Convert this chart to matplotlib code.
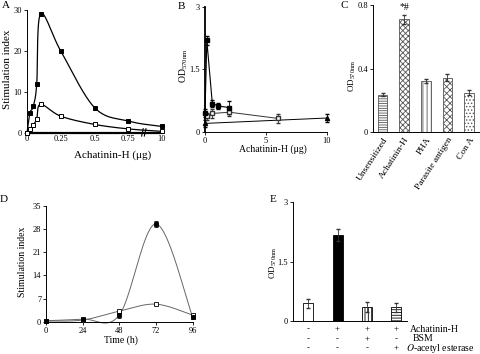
import numpy as np
import matplotlib
matplotlib.use("Agg")
import matplotlib.pyplot as plt
from matplotlib.transforms import blended_transform_factory

plt.rcParams['font.family'] = ['Liberation Serif', 'DejaVu Serif']
plt.rcParams['mathtext.fontset'] = 'stix'
plt.rcParams['hatch.linewidth'] = 0.6
plt.rcParams['hatch.color'] = '#777777'

# ---------------- data ----------------
# Panel A (x positions on a broken axis: 1.0 stands for 10 ug)
A_x = [0, 0.022, 0.047, 0.072, 0.10, 0.25, 0.50, 0.75, 1.0]
A_xticks = [0, 0.25, 0.5, 0.75, 1.0]
A_xticklabels = ['0', '0.25', '0.5', '0.75', '10']
A_filled = [0, 4.9, 6.5, 11.9, 29.0, 20.0, 6.2, 2.9, 1.6]
A_open = [0, 0.9, 2.0, 3.4, 7.0, 4.1, 2.1, 1.0, 0.4]

# Panel B
B_fx = [0, 0.15, 0.6, 1.1, 2.0]
B_fy = [0.45, 2.2, 0.68, 0.62, 0.58]
B_fe = [0.1, 0.1, 0.08, 0.08, 0.15]
B_ox = [0.15, 0.6, 2.0, 6.0]
B_oy = [0.37, 0.44, 0.47, 0.32]
B_oe = [0.08, 0.1, 0.1, 0.1]
B_tx = [0, 10]
B_ty = [0.2, 0.33]
B_te = [0.08, 0.1]

# Panel C
C_cats = ['Unsensitized', 'Achatinin-H', 'PHA', 'Parasite antigen', 'Con A']
C_vals = [0.236, 0.71, 0.321, 0.343, 0.248]
C_errs = [0.01, 0.03, 0.015, 0.02, 0.015]
C_hatches = ['-------', 'xxxxxx', '||||', 'xxxxx', '.....']

# Panel D
D_x = [0, 24, 48, 72, 96]
D_filled = [0.3, 0.8, 2.0, 29.5, 1.5]
D_filled_err = [0.3, 0.4, 0.8, 0.8, 0.8]
D_open = [0.2, 0.5, 3.2, 5.3, 2.0]
D_open_err = [0.2, 0.3, 0.4, 0.4, 0.4]

# Panel E
E_vals = [0.45, 2.17, 0.36, 0.35]
E_errs = [0.12, 0.15, 0.13, 0.11]
E_rows = ['Achatinin-H', 'BSM', r'$\mathit{O}$-acetyl esterase']
E_table = [['-', '+', '+', '+'],
           ['-', '-', '+', '-'],
           ['-', '-', '-', '+']]

W, H = 480, 354
fig = plt.figure(figsize=(4.8, 3.54), dpi=100)


def rect(l, r, t, b):
    return [l / W, 1 - b / H, (r - l) / W, (b - t) / H]


def ftext(x, y, s, **kw):
    fig.text(x / W, 1 - y / H, s, **kw)


def smooth(x, y, sx, sy, n=40):
    P = np.column_stack([np.asarray(x, float) / sx, np.asarray(y, float) / sy])
    out = []
    for i in range(len(P) - 1):
        p0 = P[i - 1] if i > 0 else P[i]
        p1, p2 = P[i], P[i + 1]
        p3 = P[i + 2] if i + 2 < len(P) else P[i + 1]
        b1 = p1 + (p2 - p0) / 6
        b2 = p2 - (p3 - p1) / 6
        t = np.linspace(0, 1, n)[:, None]
        seg = (1 - t) ** 3 * p1 + 3 * (1 - t) ** 2 * t * b1 + 3 * (1 - t) * t ** 2 * b2 + t ** 3 * p2
        out.append(seg)
    arr = np.vstack(out)
    return arr[:, 0] * sx, arr[:, 1] * sy


def style(ax, tick=6):
    for s in ['top', 'right']:
        ax.spines[s].set_visible(False)
    ax.tick_params(labelsize=tick, length=2, width=0.6, pad=1.5)
    for s in ['left', 'bottom']:
        ax.spines[s].set_linewidth(0.7)


# ---------------- Panel A ----------------
axA = fig.add_axes(rect(27, 162, 10, 133))
style(axA)
axA.set_xlim(0, 1.0)
axA.set_ylim(0, 30)
axA.set_yticks([0, 10, 20, 30])
axA.set_xticks(A_xticks)
axA.set_xticklabels(A_xticklabels)
axA.spines['bottom'].set_linewidth(1.6)
axA.tick_params(axis='x', length=0)
sx, sy = 1.0 / 135, 30 / 123
for yv, fc in [(A_filled, 'black'), (A_open, 'white')]:
    cx, cy = smooth(A_x, yv, sx, sy)
    axA.plot(cx, cy, color='black', lw=0.9, clip_on=False, zorder=2)
    axA.plot(A_x, yv, 's', ms=3.2, mfc=fc, mec='black', mew=0.7, clip_on=False, zorder=3)
tr = blended_transform_factory(axA.transData, axA.transAxes)
for xb in [0.855, 0.875]:
    axA.plot([xb - 0.006, xb + 0.006], [-0.025, 0.035], color='black', lw=0.8,
             transform=tr, clip_on=False)
ftext(5.5, 6, 'A', fontsize=8, ha='center', va='center')
ftext(7.5, 69, 'Stimulation index', fontsize=8, rotation=90, ha='center', va='center')
ftext(113, 155, 'Achatinin-H (\u03bcg)', fontsize=8, ha='center', va='center')

# ---------------- Panel B ----------------
axB = fig.add_axes(rect(205, 327, 7.3, 131.7))
style(axB)
axB.set_xlim(0, 10)
axB.set_ylim(0, 3)
axB.set_yticks([0, 1.5, 3])
axB.set_yticklabels(['0', '1.5', '3'])
axB.set_xticks([0, 5, 10])
axB.spines['left'].set_linewidth(1.3)
axB.errorbar(B_tx, B_ty, yerr=B_te, fmt='^-', color='black', ms=3, mfc='black',
             lw=0.7, elinewidth=0.6, capsize=1.5, clip_on=False)
axB.errorbar(B_ox, B_oy, yerr=B_oe, fmt='s-', color='#333333', ms=3.2, mfc='white',
             mec='#333333', lw=0.7, elinewidth=0.6, capsize=1.5, clip_on=False)
axB.errorbar(B_fx, B_fy, yerr=B_fe, fmt='s-', color='black', ms=3.4, mfc='black',
             lw=0.8, elinewidth=0.6, capsize=1.5, clip_on=False)
ftext(181.7, 6.7, 'B', fontsize=8, ha='center', va='center')
ftext(184, 66, r'OD$_{\mathregular{570nm}}$', fontsize=7, rotation=90, ha='center', va='center')
ftext(272.7, 149.3, 'Achatinin-H (\u03bcg)', fontsize=7, ha='center', va='center')

# ---------------- Panel C ----------------
axC = fig.add_axes(rect(372.7, 479, 5, 132))
style(axC)
xc = np.arange(len(C_cats))
for i, (v, h) in enumerate(zip(C_vals, C_hatches)):
    axC.bar(xc[i], v, width=0.44, color='white', edgecolor='#555555', linewidth=0.6, hatch=h)
axC.errorbar(xc, C_vals, yerr=C_errs, fmt='none', ecolor='#333333', elinewidth=0.6, capsize=1.2)
axC.set_xlim(-0.46, 4.46)
axC.set_ylim(0, 0.8)
axC.set_yticks([0, 0.4, 0.8])
axC.set_yticklabels(['0', '0.4', '0.8'])
axC.set_xticks(xc)
axC.set_xticklabels(C_cats, rotation=57, ha='right', va='top', rotation_mode='anchor',
                    fontsize=6.8)
axC.tick_params(axis='x', length=0, pad=3)
axC.text(1, 0.755, '*#', ha='center', va='bottom', fontsize=7)
ftext(344, 6, 'C', fontsize=8, ha='center', va='center')
ftext(352, 76, r'OD$_{\mathregular{570nm}}$', fontsize=6.5, rotation=90, ha='center', va='center')

# ---------------- Panel D ----------------
axD = fig.add_axes(rect(46, 192.5, 205.7, 321.7))
style(axD)
axD.set_xlim(0, 96)
axD.set_ylim(0, 35)
axD.set_xticks([0, 24, 48, 72, 96])
axD.set_yticks([0, 7, 14, 21, 28, 35])
sxD, syD = 96 / 146.5, 35 / 116
for yv, ev, fc in [(D_open, D_open_err, 'white'), (D_filled, D_filled_err, 'black')]:
    cx, cy = smooth(D_x, yv, sxD, syD)
    axD.plot(cx, cy, color='#666666', lw=0.7, clip_on=False, zorder=2)
    axD.errorbar(D_x, yv, yerr=ev, fmt='s', ms=2.8, mfc=fc, mec='black', mew=0.6,
                 ecolor='black', elinewidth=0.6, capsize=1.2, clip_on=False, zorder=3)
ftext(4, 199, 'D', fontsize=8, ha='center', va='center')
ftext(22.7, 262, 'Stimulation index', fontsize=7, rotation=90, ha='center', va='center')
ftext(120.7, 340, 'Time (h)', fontsize=7, ha='center', va='center')

# ---------------- Panel E ----------------
axE = fig.add_axes(rect(292.7, 406.7, 202.3, 321.2))
style(axE)
xe = np.arange(len(E_vals))
E_fc = ['white', 'black', 'white', 'white']
E_h = [None, None, '|||||', '------']
for i in range(len(E_vals)):
    axE.bar(xe[i], E_vals[i], width=0.34, color=E_fc[i], edgecolor='black', linewidth=0.6,
            hatch=E_h[i])
axE.errorbar(xe, E_vals, yerr=E_errs, fmt='none', ecolor='#333333', elinewidth=0.6, capsize=1.2)
axE.set_xlim(-0.53, 3.36)
axE.set_ylim(0, 3)
axE.set_yticks([0, 1.5, 3])
axE.set_yticklabels(['0', '1.5', '3'])
axE.set_xticks([])
trE = blended_transform_factory(axE.transData, fig.transFigure)
row_y = [329, 338.8, 348.5]
for r, yy in enumerate(row_y):
    for c in range(len(E_vals)):
        axE.text(xe[c], 1 - yy / H, E_table[r][c], transform=trE, ha='center', va='center',
                 fontsize=6.5)
ftext(409.5, row_y[0], E_rows[0], fontsize=7, ha='left', va='center')
ftext(412.5, row_y[1], E_rows[1], fontsize=7, ha='left', va='center')
ftext(406.5, row_y[2], E_rows[2], fontsize=7, ha='left', va='center')
ftext(273.3, 200, 'E', fontsize=8, ha='center', va='center')
ftext(273, 263, r'OD$_{\mathregular{570nm}}$', fontsize=6.5, rotation=90, ha='center', va='center')

fig.savefig('out.png', dpi=100)
